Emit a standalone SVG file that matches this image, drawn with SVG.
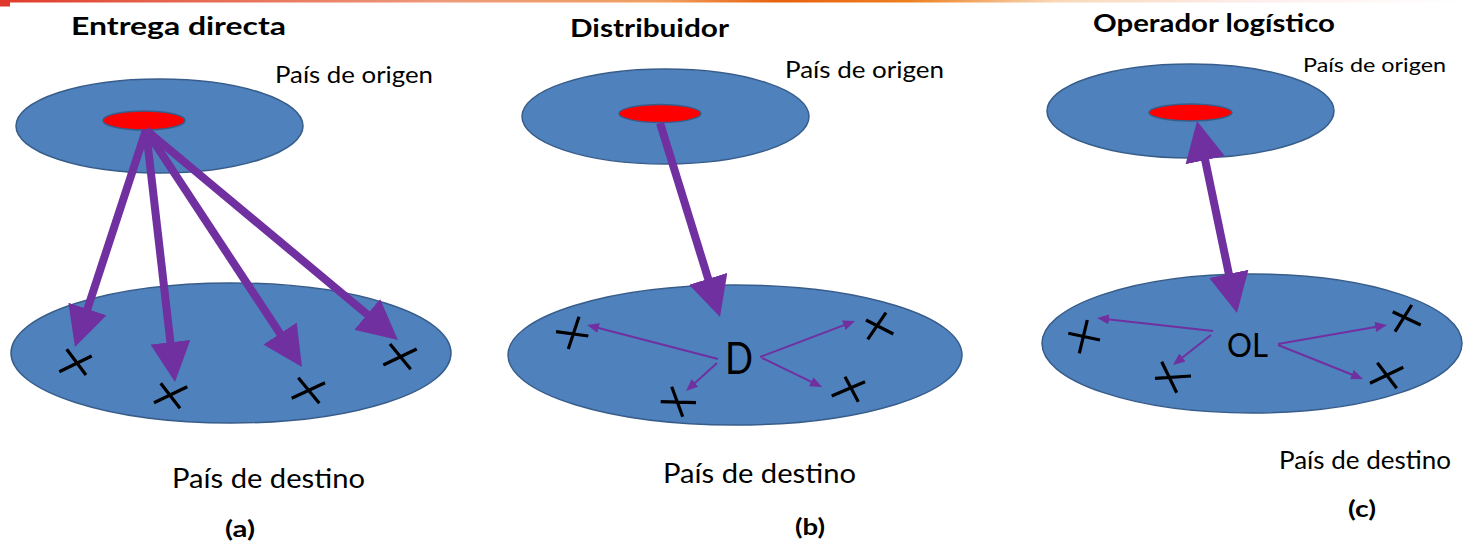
<svg xmlns="http://www.w3.org/2000/svg" xmlns:xlink="http://www.w3.org/1999/xlink" width="1467" height="546" viewBox="0 0 1467 546">
  <defs>
    <linearGradient id="topbar" x1="0" y1="0" x2="1" y2="0">
      <stop offset="0" stop-color="#E03A2A"/>
      <stop offset="0.1" stop-color="#E5604A"/>
      <stop offset="0.3" stop-color="#EE9A7A"/>
      <stop offset="0.45" stop-color="#F0A060"/>
      <stop offset="0.53" stop-color="#E8600C"/>
      <stop offset="0.62" stop-color="#EE8020"/>
      <stop offset="0.72" stop-color="#F8D8B8"/>
      <stop offset="0.85" stop-color="#FDEDEA"/>
      <stop offset="1" stop-color="#FFFFFF"/>
    </linearGradient>
    <marker id="big" viewBox="0 0 10 10" markerWidth="5" markerHeight="5" refX="5" refY="5" orient="auto-start-reverse" markerUnits="strokeWidth">
      <path d="M0,0 L10,5 L0,10 z" fill="#7030A0"/>
    </marker>
    <marker id="sm" viewBox="0 0 12 10" markerWidth="6" markerHeight="5" refX="6" refY="5" orient="auto" markerUnits="strokeWidth">
      <path d="M0,0 L12,5 L0,10 z" fill="#7030A0"/>
    </marker>
  </defs>
  <style>
    .land { fill: #4F81BD; stroke: #385D8A; stroke-width: 1.5; }
    .src { fill: #FF0000; stroke: #385D8A; stroke-width: 1.5; }
    .big { stroke: #7030A0; stroke-width: 8; fill: none; marker-end: url(#big); }
    .dbl { marker-start: url(#big); }
    .sm { stroke: #7030A0; stroke-width: 2; fill: none; marker-end: url(#sm); }
    .x { stroke: #000; stroke-width: 3.2; fill: none; stroke-linecap: butt; }
    text { font-family: Lato, "Liberation Sans", sans-serif; fill: #000; }
    .title { font-weight: bold; font-size: 25px; }
    .lbl { font-size: 22.5px; }
    .dst { font-size: 27px; }
    .cap { font-weight: bold; font-size: 22px; }
  </style>
  <rect x="0" y="0" width="1467" height="546" fill="#FFFFFF"/>
  <rect x="0" y="0" width="1467" height="2.5" fill="url(#topbar)"/>
  <rect x="0" y="0" width="10" height="6.5" fill="#E0382A"/>

  <!-- Panel (a) -->
  <g id="a-title"><text class="title" x="71" y="35" textLength="215" lengthAdjust="spacingAndGlyphs">Entrega directa</text></g>
  <g id="a-origin">
    <ellipse class="land" cx="159.5" cy="126" rx="143.5" ry="47"/>
    <ellipse class="src" cx="144" cy="120.5" rx="41" ry="9.5"/>
    <text class="lbl" x="275" y="83" textLength="158" lengthAdjust="spacingAndGlyphs">País de origen</text>
  </g>
  <g id="a-dest">
    <ellipse class="land" cx="231" cy="353" rx="220" ry="70"/>
    <path class="x" d="M59.3,371.7 L91.7,356 M66.7,349.3 L86,375"/>
    <path class="x" d="M154,402.7 L187.3,386.7 M160.7,383.3 L180,408.3"/>
    <path class="x" d="M291.7,398.3 L325,382.7 M298.3,377.7 L319.3,403.3"/>
    <path class="x" d="M383.3,365 L416.7,349 M390,344 L410.7,369.3"/>
    <text class="dst" x="172" y="488" textLength="193" lengthAdjust="spacingAndGlyphs">País de destino</text>
  </g>
  <g id="a-caption"><text class="cap" x="225" y="537" textLength="30" lengthAdjust="spacingAndGlyphs">(a)</text></g>

  <!-- Panel (b) -->
  <g id="b-title"><text class="title" x="570" y="37" textLength="159" lengthAdjust="spacingAndGlyphs">Distribuidor</text></g>
  <g id="b-origin">
    <ellipse class="land" cx="665.5" cy="116.5" rx="143.5" ry="47.5"/>
    <ellipse class="src" cx="660" cy="113.5" rx="41" ry="9"/>
    <text class="lbl" x="785" y="78" textLength="159" lengthAdjust="spacingAndGlyphs">País de origen</text>
  </g>
  <g id="b-dest">
    <ellipse class="land" cx="735" cy="355" rx="227" ry="70"/>
    <path class="x" d="M556,331.7 L588.3,336 M579,316.7 L568.3,349"/>
    <path class="x" d="M660.7,401.7 L696,402.7 M671.7,386.7 L682.7,416.7"/>
    <path class="x" d="M866,320 L893.3,334 M886,312.7 L867.7,339.3"/>
    <path class="x" d="M831.7,396 L865,381.7 M845,376.7 L858.3,401.7"/>
    <text class="dst" x="663" y="483" textLength="193" lengthAdjust="spacingAndGlyphs">País de destino</text>
  </g>
  <g id="b-D"><text x="725" y="374" font-size="44" textLength="28" lengthAdjust="spacingAndGlyphs">D</text></g>
  <g id="b-caption"><text class="cap" x="795" y="535" textLength="30" lengthAdjust="spacingAndGlyphs">(b)</text></g>

  <!-- Panel (c) -->
  <g id="c-title"><text class="title" x="1093" y="32" textLength="242" lengthAdjust="spacingAndGlyphs">Operador logístico</text></g>
  <g id="c-origin">
    <ellipse class="land" cx="1190.5" cy="111" rx="143.5" ry="47"/>
    <ellipse class="src" cx="1190.5" cy="112.5" rx="41.5" ry="8.5"/>
    <text x="1303" y="72" font-size="20" textLength="143" lengthAdjust="spacingAndGlyphs">País de origen</text>
  </g>
  <g id="c-dest">
    <ellipse class="land" cx="1252" cy="343.5" rx="210" ry="69.5"/>
    <path class="x" d="M1068.3,333.3 L1100,340 M1087.3,320 L1079.3,353.3"/>
    <path class="x" d="M1155,378.3 L1191,376 M1161.7,361.7 L1176.7,392.7"/>
    <path class="x" d="M1392.7,311.7 L1420.7,325 M1411.7,305 L1395,331.7"/>
    <path class="x" d="M1370,383.3 L1403.3,367.3 M1377.3,362.7 L1396.7,388.3"/>
    <text x="1279" y="469" font-size="24.5" textLength="172" lengthAdjust="spacingAndGlyphs">País de destino</text>
  </g>
  <g id="c-OL"><text x="1227" y="357" font-size="33" textLength="41" lengthAdjust="spacingAndGlyphs">OL</text></g>
  <g id="c-caption"><text class="cap" x="1348" y="517" textLength="28" lengthAdjust="spacingAndGlyphs">(c)</text></g>

  <!-- Connectors -->
  <g id="connectors">
    <line class="big" x1="146" y1="130" x2="81.2" y2="328"/>
    <line class="big" x1="146" y1="130" x2="172.7" y2="362.1"/>
    <line class="big" x1="146" y1="130" x2="291" y2="350.3"/>
    <line class="big" x1="146" y1="130" x2="382.6" y2="327.2"/>
    <line class="big" x1="660" y1="123" x2="714.1" y2="297.9"/>
    <line class="big dbl" x1="1201.1" y1="140.6" x2="1232.9" y2="293.4"/>
    <line class="sm" x1="718" y1="359" x2="592.8" y2="326.5"/>
    <line class="sm" x1="717" y1="363" x2="690.5" y2="387"/>
    <line class="sm" x1="760" y1="357" x2="849.4" y2="323.1"/>
    <line class="sm" x1="762" y1="358" x2="816.6" y2="384.4"/>
    <line class="sm" x1="1213" y1="331" x2="1103" y2="318.7"/>
    <line class="sm" x1="1211" y1="335" x2="1177.7" y2="361.3"/>
    <line class="sm" x1="1278" y1="344" x2="1381.1" y2="326"/>
    <line class="sm" x1="1278" y1="345" x2="1357.4" y2="376.8"/>
  </g>
</svg>
